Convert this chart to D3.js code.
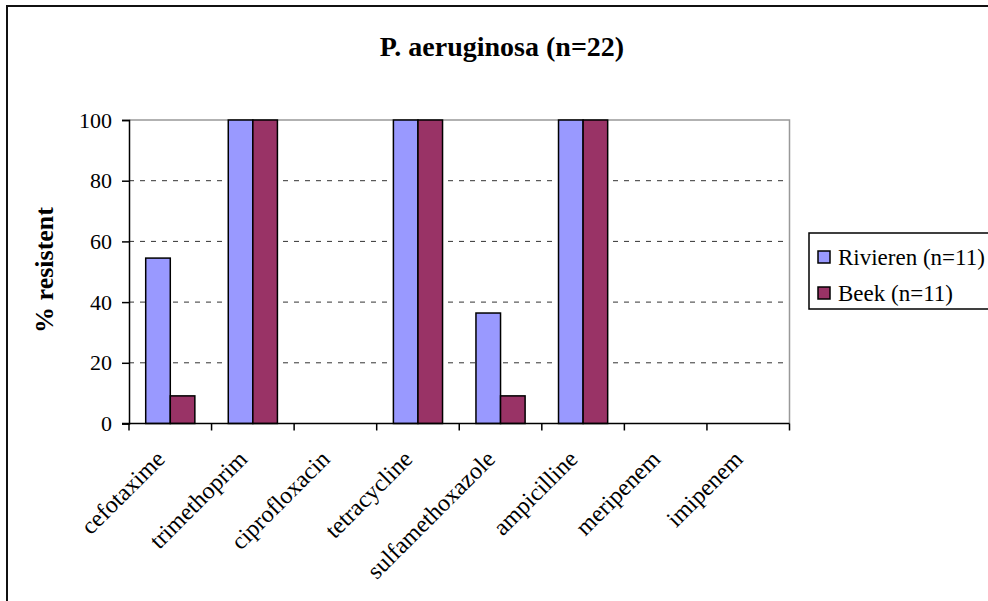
<!DOCTYPE html>
<html>
<head>
<meta charset="utf-8">
<script src="https://cdn.jsdelivr.net/npm/d3@7"></script>
<style>
  html, body { margin: 0; padding: 0; background: #fff; }
  svg { display: block; }
  svg text { font-family: "Liberation Serif", "Times New Roman", serif !important; fill: #000; }
</style>
</head>
<body>
<svg id="chart" width="988" height="601"></svg>
<script>
// Antibiotics tested
const categories = ["cefotaxime", "trimethoprim", "ciprofloxacin", "tetracycline",
                    "sulfamethoxazole", "ampicilline", "meripenem", "imipenem"];
// Percentage resistant per location
const seriesNames = ["Rivieren (n=11)", "Beek (n=11)"];
const rivieren = [54.5, 100, 0, 100, 36.4, 100, 0, 0];
const beek     = [9.1, 100, 0, 100, 9.1, 100, 0, 0];
const yTicks = [0, 20, 40, 60, 80, 100];
const colors = ["#9999FF", "#993366"];

const FONT = "Liberation Serif, Times New Roman, serif";
const svg = d3.select("#chart");

// outer frame
svg.append("rect")
  .attr("x", 7).attr("y", 6).attr("width", 1000).attr("height", 620)
  .attr("fill", "none").attr("stroke", "#111").attr("stroke-width", 2);

const plot = { left: 129, right: 789.5, top: 120, bottom: 423.5 };

const x0 = d3.scaleBand().domain(categories).range([plot.left, plot.right]).padding(0);
const x1 = d3.scaleBand().domain(seriesNames).range([0, x0.bandwidth()])
  .paddingInner(0).paddingOuter(0.68);
const y = d3.scaleLinear().domain([0, 100]).range([plot.bottom, plot.top]);

// gridlines
svg.append("g").selectAll("line")
  .data(yTicks.filter(t => t > 0 && t < 100))
  .join("line")
  .attr("x1", plot.left).attr("x2", plot.right)
  .attr("y1", d => y(d)).attr("y2", d => y(d))
  .attr("stroke", "#333").attr("stroke-width", 1)
  .attr("stroke-dasharray", "5,6");

// plot frame (top and right edges)
svg.append("path")
  .attr("d", `M${plot.left},${plot.top}H${plot.right}V${plot.bottom}`)
  .attr("fill", "none").attr("stroke", "#999").attr("stroke-width", 1.5);

// bars
const rows = categories.map((c, i) => ({ cat: c, vals: [rivieren[i], beek[i]] }));
svg.append("g").selectAll("g")
  .data(rows)
  .join("g")
  .attr("transform", d => `translate(${x0(d.cat)},0)`)
  .selectAll("rect")
  .data(d => d.vals.map((v, j) => ({ name: seriesNames[j], v, j })))
  .join("rect")
  .attr("x", d => x1(d.name))
  .attr("width", x1.bandwidth())
  .attr("y", d => y(d.v))
  .attr("height", d => y(0) - y(d.v))
  .attr("fill", d => colors[d.j])
  .attr("stroke", "#000").attr("stroke-width", 1.5);

// y axis
const yAxis = d3.axisLeft(y).tickValues(yTicks).tickSize(7).tickPadding(10).tickFormat(d3.format("d"));
const gy = svg.append("g").attr("transform", `translate(${plot.left},0)`).call(yAxis)
  .attr("font-family", FONT);
gy.select(".domain").attr("stroke", "#000").attr("stroke-width", 1.5);
gy.selectAll(".tick line").attr("stroke", "#000").attr("stroke-width", 1.5);
gy.selectAll(".tick text").attr("font-family", FONT).style("font-size", "22px").attr("fill", "#000");

// x axis: baseline with ticks at category boundaries
const gx = svg.append("g");
gx.append("line")
  .attr("x1", plot.left - 7).attr("x2", plot.right)
  .attr("y1", plot.bottom).attr("y2", plot.bottom)
  .attr("stroke", "#000").attr("stroke-width", 1.5);
const bounds = categories.map(c => x0(c)).concat([plot.right]);
gx.selectAll("line.tk").data(bounds).join("line").attr("class", "tk")
  .attr("x1", d => d).attr("x2", d => d)
  .attr("y1", plot.bottom).attr("y2", plot.bottom + 7)
  .attr("stroke", "#000").attr("stroke-width", 1.5);

// rotated category labels
gx.selectAll("text").data(categories).join("text")
  .attr("transform", d => `translate(${x0(d) + x0.bandwidth() / 2 - 10},${plot.bottom + 31}) rotate(-45)`)
  .attr("text-anchor", "end")
  .attr("dy", "0.35em")
  .attr("font-family", FONT)
  .style("font-size", "24px")
  .text(d => d);

// title
svg.append("text")
  .attr("x", 502).attr("y", 56)
  .attr("text-anchor", "middle")
  .attr("font-family", FONT)
  .style("font-size", "28px").style("font-weight", "bold")
  .text("P. aeruginosa (n=22)");

// y axis title
svg.append("text")
  .attr("transform", "translate(53,270) rotate(-90)")
  .attr("text-anchor", "middle")
  .attr("font-family", FONT)
  .style("font-size", "26px").style("font-weight", "bold")
  .text("% resistent");

// legend
const lg = svg.append("g");
lg.append("rect")
  .attr("x", 809).attr("y", 233).attr("width", 200).attr("height", 76)
  .attr("fill", "#fff").attr("stroke", "#000").attr("stroke-width", 1.5);
const items = lg.selectAll("g.item").data(seriesNames).join("g").attr("class", "item")
  .attr("transform", (d, i) => `translate(818,${257 + i * 36})`);
items.append("rect")
  .attr("x", 0).attr("y", -6).attr("width", 12).attr("height", 12)
  .attr("fill", (d, i) => colors[i]).attr("stroke", "#000").attr("stroke-width", 1.5);
items.append("text")
  .attr("x", 20).attr("y", 0).attr("dy", "0.35em")
  .attr("font-family", FONT)
  .style("font-size", "23px")
  .text(d => d);
</script>
</body>
</html>
